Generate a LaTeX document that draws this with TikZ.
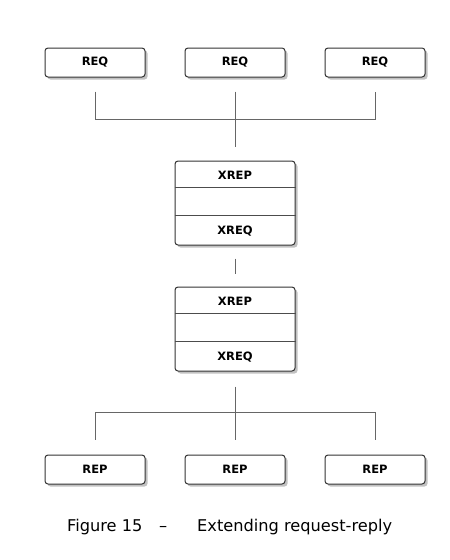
\documentclass[tikz,border=0pt]{standalone}
\usepackage{fontspec}
\setmainfont{DejaVu Sans}
\usetikzlibrary{shadows}
\newcommand{\lowtext}[1]{\raisebox{-2.5pt}{#1}}
\begin{document}
\begin{tikzpicture}[x=1pt,y=-1pt,
  boxstyle/.style={draw=black!80,line width=1pt,fill=white,rounded corners=3pt,
    drop shadow={shadow xshift=2.5pt,shadow yshift=-2.5pt,fill=black!40,opacity=0.6},
    minimum width=100pt,minimum height=29pt,inner sep=0pt,font=\bfseries\fontsize{11.5}{13}\selectfont},
  xbox/.style={boxstyle,minimum width=120pt,minimum height=84pt},
  wire/.style={draw=black!60,line width=1pt},
  divider/.style={draw=black!70,line width=1pt},
  lbl/.style={font=\bfseries\fontsize{11.5}{13}\selectfont,inner sep=0pt},
  captext/.style={font=\fontsize{16.2}{18}\selectfont,inner sep=0pt,anchor=base west}]
\useasboundingbox (0,0) rectangle (450,560);
\fill[white] (0,0) rectangle (450,560);
% REQ boxes
\node[boxstyle] (q1) at (95,62.5) {\lowtext{REQ}};
\node[boxstyle] (q2) at (235,62.5) {\lowtext{REQ}};
\node[boxstyle] (q3) at (375,62.5) {\lowtext{REQ}};
% XREP boxes
\node[xbox] (x1) at (235,203) {};
\node[xbox] (x2) at (235,329) {};
\draw[divider] ([yshift=-27pt]x1.north west) -- ([yshift=-27pt]x1.north east);
\draw[divider] ([yshift=-55pt]x1.north west) -- ([yshift=-55pt]x1.north east);
\draw[divider] ([yshift=-27pt]x2.north west) -- ([yshift=-27pt]x2.north east);
\draw[divider] ([yshift=-55pt]x2.north west) -- ([yshift=-55pt]x2.north east);
\node[lbl] (x1t) at (235,175) {XREP};
\node[lbl] (x1b) at (235,231.5) {XREQ};
\node[lbl] (x2t) at (235,301) {XREP};
\node[lbl] (x2b) at (235,357.5) {XREQ};
% REP boxes
\node[boxstyle] (p1) at (95,469.5) {\lowtext{REP}};
\node[boxstyle] (p2) at (235,469.5) {\lowtext{REP}};
\node[boxstyle] (p3) at (375,469.5) {\lowtext{REP}};
% top connectors
\coordinate (tj) at (235,119);
\draw[wire] ([yshift=-14pt]q1.south) -- (q1.south |- tj) -- (q3.south |- tj) -- ([yshift=-14pt]q3.south);
\draw[wire] ([yshift=-14pt]q2.south) -- ([yshift=14pt]x1.north);
% middle dash
\draw[wire] ([yshift=-13pt]x1.south) -- ([yshift=13pt]x2.north);
% bottom connectors
\coordinate (bj) at (235,412);
\draw[wire] ([yshift=-15pt]x2.south) -- ([yshift=15pt]p2.north);
\draw[wire] ([yshift=15pt]p1.north) -- (p1.north |- bj) -- (p3.north |- bj) -- ([yshift=15pt]p3.north);
% caption
\node[captext] (c1) at (67,531) {Figure 15};
\node[captext] (c2) at (159,531) {–};
\node[captext] (c3) at (197,531) {Extending request-reply};
\end{tikzpicture}
\end{document}
